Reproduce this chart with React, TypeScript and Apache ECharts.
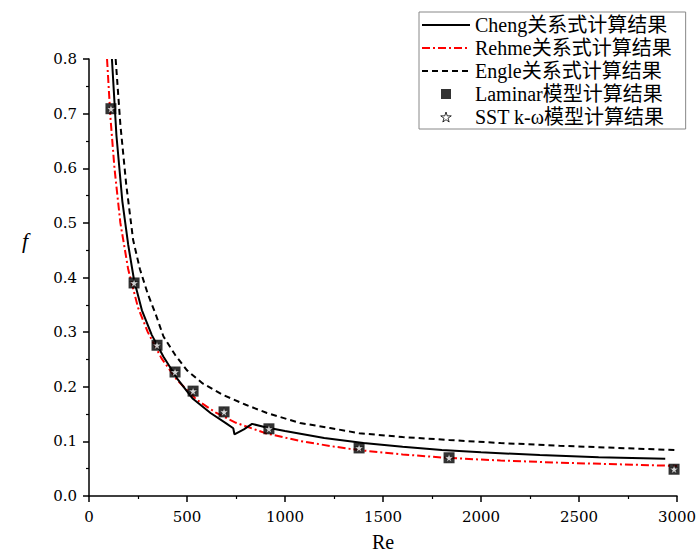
import React, { useEffect, useRef } from "react";
import * as echarts from "echarts";

const chengRe = [117, 140, 170, 200, 230, 270, 320, 380, 450, 530, 620, 700, 736, 742, 790, 832, 900, 1000, 1200, 1400, 1600, 1800, 2000, 2300, 2600, 2940];
const chengF = [0.8, 0.66, 0.54, 0.46, 0.395, 0.34, 0.295, 0.255, 0.215, 0.178, 0.152, 0.133, 0.124, 0.113, 0.122, 0.132, 0.126, 0.119, 0.106, 0.097, 0.09, 0.084, 0.08, 0.075, 0.071, 0.068];

const rehmeRe = [92, 110, 130, 160, 200, 250, 300, 370, 450, 550, 650, 750, 900, 1077, 1230, 1378, 1600, 1837, 2100, 2400, 2700, 3000];
const rehmeF = [0.8, 0.69, 0.6, 0.5, 0.415, 0.345, 0.3, 0.252, 0.212, 0.176, 0.152, 0.134, 0.115, 0.1007, 0.0915, 0.084, 0.076, 0.0696, 0.065, 0.061, 0.058, 0.055];

const engleRe = [136, 160, 190, 225, 260, 300, 340, 380, 440, 500, 580, 684, 800, 908, 1077, 1230, 1378, 1600, 1837, 2100, 2400, 2700, 3000];
const engleF = [0.8, 0.68, 0.57, 0.469, 0.415, 0.37, 0.333, 0.292, 0.258, 0.23, 0.206, 0.185, 0.167, 0.152, 0.1336, 0.1245, 0.115, 0.108, 0.1025, 0.097, 0.092, 0.088, 0.084];

const laminarRe = [112, 230, 347, 439, 531, 689, 918, 1378, 1837, 2985];
const laminarF = [0.709, 0.39, 0.276, 0.227, 0.192, 0.154, 0.123, 0.088, 0.07, 0.049];

const sstRe = [112, 230, 347, 439, 531, 689, 918, 1378, 1837, 2985];
const sstF = [0.709, 0.39, 0.276, 0.227, 0.192, 0.154, 0.123, 0.088, 0.07, 0.049];

const seriesNames = [
  "Cheng关系式计算结果",
  "Rehme关系式计算结果",
  "Engle关系式计算结果",
  "Laminar模型计算结果",
  "SST k-ω模型计算结果",
];

const zip = (xs: number[], ys: number[]) => xs.map((x, i) => [x, ys[i]]);

const STAR = "path://M50,0 L61,35 L98,35 L68,57 L79,91 L50,70 L21,91 L32,57 L2,35 L39,35 Z";
const SQUARE = "path://M0,0 L10,0 L10,10 L0,10 Z";

export default function App() {
  const ref = useRef<HTMLDivElement>(null);
  useEffect(() => {
    if (!ref.current) return;
    const chart = echarts.init(ref.current, undefined, { renderer: "svg" });
    const axisFont = "'DejaVu Serif', serif";
    const hidden = { color: "rgba(0,0,0,0)", borderColor: "rgba(0,0,0,0)", borderWidth: 0 };
    chart.setOption({
      animation: false,
      backgroundColor: "#fff",
      grid: { left: 89, right: 20, top: 59, bottom: 57, containLabel: false, outerBoundsMode: "none" },
      legend: {
        left: 419,
        top: 12,
        orient: "vertical",
        backgroundColor: "#fff",
        borderColor: "#888",
        borderWidth: 1,
        borderRadius: 0,
        padding: [3, 14, 2, 2],
        itemGap: 3,
        itemWidth: 48,
        itemHeight: 10,
        textStyle: {
          fontFamily: "'Liberation Serif', 'Noto Sans CJK SC'",
          fontSize: 20,
          lineHeight: 20,
          color: "#000",
        },
        data: [
          { name: seriesNames[0], itemStyle: hidden },
          { name: seriesNames[1], itemStyle: hidden },
          { name: seriesNames[2], itemStyle: hidden },
          { name: seriesNames[3], icon: SQUARE, itemStyle: { color: "#000" } },
          { name: seriesNames[4], icon: STAR, itemStyle: { color: "#fff", borderColor: "#000", borderWidth: 1 } },
        ],
      },
      graphic: [
        {
          type: "text",
          left: 22,
          top: 229,
          style: {
            text: "f",
            font: "italic 22px 'Liberation Serif', serif",
            fill: "#000",
          },
        },
      ],
      xAxis: {
        type: "value",
        min: 0,
        max: 3000,
        interval: 500,
        name: "Re",
        nameLocation: "middle",
        nameGap: 36,
        nameTextStyle: { fontFamily: "'Liberation Serif', serif", fontSize: 20, color: "#000" },
        axisLine: { show: true, onZero: false, lineStyle: { color: "#000", width: 1.5 } },
        axisTick: { show: true, inside: false, length: 6, lineStyle: { color: "#000", width: 1.5 } },
        minorTick: { show: true, splitNumber: 2, length: 3, lineStyle: { color: "#000", width: 1.2 } },
        splitLine: { show: false },
        axisLabel: {
          color: "#000",
          fontFamily: axisFont,
          fontSize: 15,
          margin: 13,
          formatter: (v: number) => String(v),
        },
      },
      yAxis: {
        type: "value",
        min: 0,
        max: 0.8,
        interval: 0.1,
        axisLine: { show: true, onZero: false, lineStyle: { color: "#000", width: 1.5 } },
        axisTick: { show: true, inside: false, length: 6, lineStyle: { color: "#000", width: 1.5 } },
        minorTick: { show: true, splitNumber: 2, length: 3, lineStyle: { color: "#000", width: 1.2 } },
        splitLine: { show: false },
        axisLabel: {
          color: "#000",
          fontFamily: axisFont,
          fontSize: 15,
          margin: 12,
          formatter: (v: number) => v.toFixed(1),
        },
      },
      series: [
        {
          name: seriesNames[0],
          type: "line",
          data: zip(chengRe, chengF),
          symbol: "none",
          lineStyle: { color: "#000", width: 2, type: "solid" },
          itemStyle: { color: "#000" },
          z: 3,
        },
        {
          name: seriesNames[1],
          type: "line",
          data: zip(rehmeRe, rehmeF),
          symbol: "none",
          lineStyle: { color: "#ff0000", width: 2, type: [8, 3, 2, 3] },
          itemStyle: { color: "#ff0000" },
          z: 2,
        },
        {
          name: seriesNames[2],
          type: "line",
          data: zip(engleRe, engleF),
          symbol: "none",
          lineStyle: { color: "#000", width: 2, type: [6, 4] },
          itemStyle: { color: "#000" },
          z: 2,
        },
        {
          name: seriesNames[3],
          type: "scatter",
          data: zip(laminarRe, laminarF),
          symbol: "rect",
          symbolSize: 11,
          itemStyle: { color: "#000" },
          z: 4,
        },
        {
          name: seriesNames[4],
          type: "scatter",
          data: zip(sstRe, sstF),
          symbol: STAR,
          symbolSize: 9,
          itemStyle: { color: "#fff", borderColor: "#000", borderWidth: 0.6 },
          z: 5,
        },
      ],
    });
    return () => chart.dispose();
  }, []);
  return <div ref={ref} style={{ width: 697, height: 553, position: "absolute", left: 0, top: 0 }} />;
}
